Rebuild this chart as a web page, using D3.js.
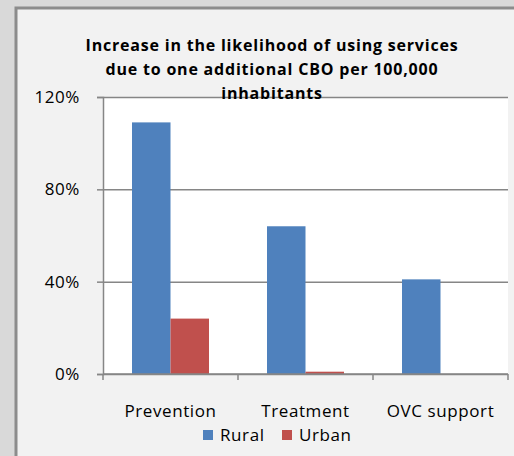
<!DOCTYPE html>
<html lang="en">
<head>
<meta charset="utf-8">
<title>CBO services</title>
<script src="https://d3js.org/d3.v7.min.js"></script>
<style>
  body { margin: 0; background: #d9d9d9; }
  svg { display: block; }
</style>
</head>
<body>
<div id="chart"></div>
<script>
// chart values
var categories = ["Prevention", "Treatment", "OVC support"];
var seriesNames = ["Rural", "Urban"];
var rural = [1.09, 0.64, 0.41];
var urban = [0.24, 0.01, 0];
var yTicks = [0, 0.4, 0.8, 1.2];
var titleLines = ["Increase in the likelihood of using services",
                  "due to one additional CBO per 100,000",
                  "inhabitants"];
var colors = ["#4f81bd", "#c0504d"];

var W = 514, H = 456;
var margin = {top: 97, right: 6, bottom: 82, left: 103};
var width = W - margin.left - margin.right,
    height = H - margin.top - margin.bottom;
var font = "'Open Sans', sans-serif";

var svg = d3.select("#chart").append("svg")
    .attr("width", W)
    .attr("height", H);

// chart frame
svg.append("rect")
  .attr("x", 16).attr("y", 8)
  .attr("width", W).attr("height", H)
  .attr("fill", "#f2f2f2")
  .attr("stroke", "#8c8c8c")
  .attr("stroke-width", 3);

var g = svg.append("g")
  .attr("transform", `translate(${margin.left},${margin.top})`);

g.append("rect")
  .attr("width", width).attr("height", height)
  .attr("fill", "#ffffff");

var x0 = d3.scaleBand().domain(categories).range([0, width]).paddingInner(0).paddingOuter(0);
var x1 = d3.scaleBand().domain(seriesNames).range([29, x0.bandwidth() - 29]);
var y = d3.scaleLinear().domain([0, 1.2]).range([height, 0]);

// gridlines
g.append("g")
  .call(d3.axisLeft(y).tickValues(yTicks).tickSize(-width).tickFormat(""))
  .call(a => a.select(".domain").remove())
  .call(a => a.selectAll(".tick line").attr("stroke", "#868686").attr("stroke-width", 1.5));

// y axis
g.append("g")
  .call(d3.axisLeft(y).tickValues(yTicks).tickSize(6).tickPadding(17)
    .tickFormat(d => Math.round(d * 100) + "%"))
  .call(a => a.select(".domain").attr("stroke", "#868686").attr("stroke-width", 1.5))
  .call(a => a.selectAll(".tick line").attr("stroke", "#868686").attr("stroke-width", 1.5))
  .call(a => a.selectAll(".tick text")
    .attr("font-family", font)
    .attr("font-size", 17)
    .attr("letter-spacing", 0.6)
    .attr("fill", "#000"));

var data = categories.map((c, i) => ({cat: c, vals: [rural[i], urban[i]]}));

var groups = g.selectAll(".grp").data(data).join("g")
  .attr("transform", d => `translate(${x0(d.cat)},0)`);

groups.selectAll("rect").data(d => d.vals.map((v, j) => ({s: seriesNames[j], v: v, j: j})))
  .join("rect")
  .attr("x", d => x1(d.s))
  .attr("width", x1.bandwidth())
  .attr("y", d => y(d.v))
  .attr("height", d => height - y(d.v))
  .attr("fill", d => colors[d.j]);

// x axis
var xTickPos = d3.range(categories.length + 1).map(i => i * x0.step());
var xAx = g.append("g").attr("transform", `translate(0,${height})`);
xAx.append("line")
  .attr("x1", 0).attr("x2", width)
  .attr("stroke", "#868686").attr("stroke-width", 1.5);
xAx.selectAll(".xt").data(xTickPos).join("line")
  .attr("x1", d => d).attr("x2", d => d)
  .attr("y1", 0).attr("y2", 6)
  .attr("stroke", "#868686").attr("stroke-width", 1.5);
xAx.selectAll("text").data(categories).join("text")
  .attr("x", d => x0(d) + x0.bandwidth() / 2)
  .attr("y", 43)
  .attr("text-anchor", "middle")
  .attr("font-family", font)
  .attr("font-size", 17)
  .attr("letter-spacing", 0.6)
  .text(d => d);

// title
svg.append("g").selectAll("text").data(titleLines).join("text")
  .attr("x", 272)
  .attr("y", (d, i) => 51 + i * 24)
  .attr("text-anchor", "middle")
  .attr("font-family", font)
  .attr("font-weight", "bold")
  .attr("font-size", 16)
  .attr("letter-spacing", 0.8)
  .text(d => d);

// legend
var legX = [203, 282];
var leg = svg.append("g").selectAll("g").data(seriesNames).join("g")
  .attr("transform", (d, i) => `translate(${legX[i]},430)`);
leg.append("rect").attr("width", 10).attr("height", 10)
  .attr("fill", (d, i) => colors[i]);
leg.append("text")
  .attr("x", 17).attr("y", 11)
  .attr("font-family", font)
  .attr("font-size", 17)
  .attr("letter-spacing", 0.6)
  .text(d => d);
</script>
</body>
</html>
